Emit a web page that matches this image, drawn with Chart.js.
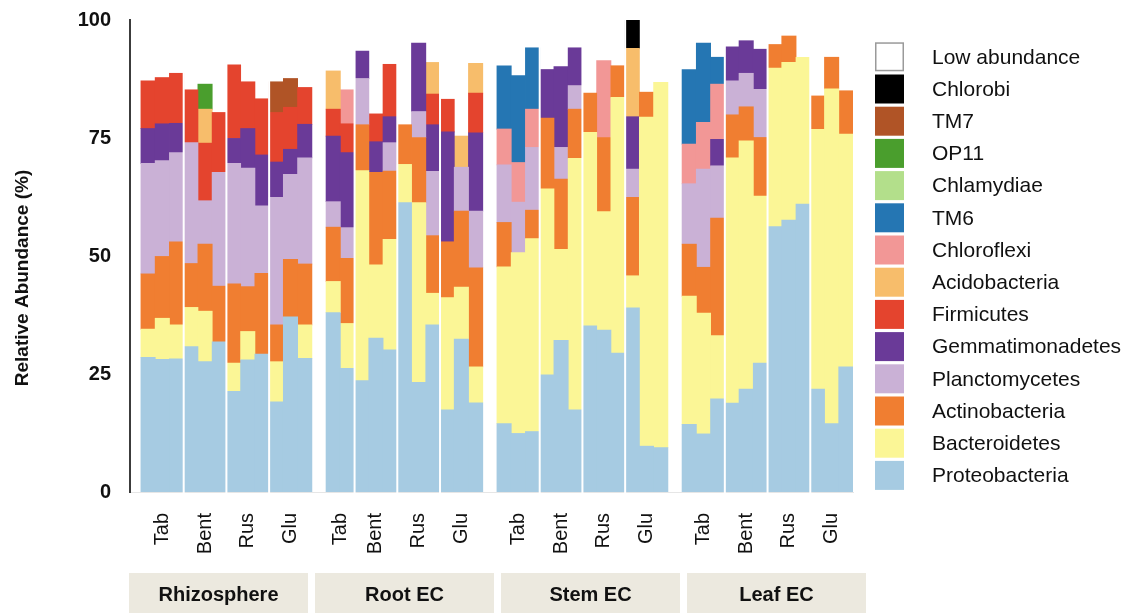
<!DOCTYPE html>
<html>
<head>
<meta charset="utf-8">
<title>Relative abundance of bacterial phyla</title>
<script src="https://cdn.jsdelivr.net/npm/chart.js@4.4.1/dist/chart.umd.min.js"></script>
<style>
  html, body { margin: 0; padding: 0; background: #ffffff; }
  #wrap { width: 1132px; height: 613px; }
</style>
</head>
<body>
<div id="wrap"><canvas id="chart" width="1132" height="613"></canvas></div>
<script>
// Sample layout: compartments, host plants, and replicates per host
const tissues = ['Rhizosphere', 'Root EC', 'Stem EC', 'Leaf EC'];
const hosts = ['Tab', 'Bent', 'Rus', 'Glu'];
const replicates = [[3, 3, 3, 3], [2, 3, 3, 3], [3, 3, 3, 3], [3, 3, 3, 3]];
const yTicks = [0, 25, 50, 75, 100];

// Relative abundance (%) for each replicate, left to right
// (Rhizosphere 12 | Root EC 11 | Stem EC 12 | Leaf EC 12)
const proteobacteria   = [28.5, 28.1, 28.2, 30.8, 27.6, 31.8, 21.3, 28.0, 29.2, 19.1, 37.1, 28.3, 38.0, 26.2, 23.6, 32.6, 30.1, 61.3, 23.2, 35.4, 17.4, 32.4, 18.9, 14.5, 12.4, 12.8, 24.8, 32.1, 17.4, 35.2, 34.3, 29.4, 39.0, 9.7, 9.4, 14.3, 12.3, 19.7, 18.8, 21.8, 27.3, 56.2, 57.6, 61.0, 21.8, 14.5, 26.5];
const bacteroidetes    = [6.0, 8.7, 7.2, 8.3, 10.7, 0, 6.0, 6.0, 0, 8.5, 0, 7.1, 6.6, 9.5, 44.5, 15.5, 23.4, 8.1, 38.1, 6.7, 23.8, 11.0, 7.6, 33.2, 38.3, 40.9, 39.4, 19.3, 53.3, 41.0, 25.1, 54.2, 6.8, 69.7, 77.4, 27.2, 25.6, 13.4, 52.0, 52.6, 35.4, 33.6, 33.4, 31.1, 55.0, 70.9, 49.3];
const actinobacteria   = [11.7, 13.1, 17.6, 9.3, 14.2, 11.8, 16.8, 9.5, 17.1, 7.8, 12.2, 12.9, 11.5, 13.8, 9.7, 19.6, 14.5, 8.4, 13.8, 12.2, 11.8, 16.1, 21.0, 9.4, 0, 6.0, 15.0, 14.9, 10.4, 8.3, 15.7, 6.7, 16.6, 5.3, 0, 11.0, 9.7, 24.9, 9.1, 7.2, 12.4, 5.0, 5.6, 0, 7.1, 6.7, 9.2];
const planctomycetes   = [23.4, 20.3, 18.9, 25.6, 9.2, 24.1, 25.5, 25.1, 14.3, 27.0, 18.0, 22.5, 5.4, 6.5, 9.8, 0, 6.0, 0, 5.5, 13.6, 0, 9.3, 12.0, 12.2, 10.7, 13.3, 0, 6.7, 5.0, 0, 0, 0, 6.0, 0, 0, 12.8, 20.8, 11.1, 7.2, 7.1, 10.2, 0, 0, 0, 0, 0, 0];
const gemmatimonadetes = [7.4, 7.8, 6.2, 0, 0, 0, 5.3, 8.4, 10.8, 7.5, 5.3, 7.1, 13.9, 15.9, 5.8, 6.5, 5.5, 0, 14.5, 9.9, 23.3, 0, 16.6, 0, 0, 0, 10.3, 17.1, 8.0, 0, 0, 0, 11.1, 0, 0, 0, 0, 5.6, 7.2, 6.9, 8.5, 0, 0, 0, 0, 0, 0];
const firmicutes       = [10.1, 9.8, 10.6, 11.2, 12.2, 12.7, 15.6, 9.9, 11.9, 10.5, 8.9, 7.8, 5.7, 6.1, 0, 5.9, 11.1, 0, 0, 6.5, 6.9, 0, 8.4, 0, 0, 0, 0, 0, 0, 0, 0, 0, 0, 0, 0, 0, 0, 0, 0, 0, 0, 0, 0, 0, 0, 0, 0];
const acidobacteria    = [0, 0, 0, 0, 7.2, 0, 0, 0, 0, 0, 0, 0, 8.1, 0, 0, 0, 0, 0, 0, 6.7, 0, 6.6, 6.3, 0, 0, 0, 0, 0, 0, 0, 0, 0, 14.5, 0, 0, 0, 0, 0, 0, 0, 0, 0, 0, 0, 0, 0, 0];
const chloroflexi      = [0, 0, 0, 0, 0, 0, 0, 0, 0, 0, 0, 0, 0, 7.2, 0, 0, 0, 0, 0, 0, 0, 0, 0, 7.6, 8.4, 8.1, 0, 0, 0, 0, 16.3, 0, 0, 0, 0, 8.4, 9.9, 11.7, 0, 0, 0, 0, 0, 0, 0, 0, 0];
const tm6              = [0, 0, 0, 0, 0, 0, 0, 0, 0, 0, 0, 0, 0, 0, 0, 0, 0, 0, 0, 0, 0, 0, 0, 13.4, 18.4, 13.0, 0, 0, 0, 0, 0, 0, 0, 0, 0, 15.8, 16.8, 5.7, 0, 0, 0, 0, 0, 0, 0, 0, 0];
const chlamydiae       = [0, 0, 0, 0, 0, 0, 0, 0, 0, 0, 0, 0, 0, 0, 0, 0, 0, 0, 0, 0, 0, 0, 0, 0, 0, 0, 0, 0, 0, 0, 0, 0, 0, 0, 0, 0, 0, 0, 0, 0, 0, 0, 0, 0, 0, 0, 0];
const op11             = [0, 0, 0, 0, 5.3, 0, 0, 0, 0, 0, 0, 0, 0, 0, 0, 0, 0, 0, 0, 0, 0, 0, 0, 0, 0, 0, 0, 0, 0, 0, 0, 0, 0, 0, 0, 0, 0, 0, 0, 0, 0, 0, 0, 0, 0, 0, 0];
const tm7              = [0, 0, 0, 0, 0, 0, 0, 0, 0, 6.5, 6.1, 0, 0, 0, 0, 0, 0, 0, 0, 0, 0, 0, 0, 0, 0, 0, 0, 0, 0, 0, 0, 0, 0, 0, 0, 0, 0, 0, 0, 0, 0, 0, 0, 0, 0, 0, 0];
const chlorobi         = [0, 0, 0, 0, 0, 0, 0, 0, 0, 0, 0, 0, 0, 0, 0, 0, 0, 0, 0, 0, 0, 0, 0, 0, 0, 0, 0, 0, 0, 0, 0, 0, 6.0, 0, 0, 0, 0, 0, 0, 0, 0, 0, 0, 0, 0, 0, 0];
const lowAbundance     = [12.9, 12.2, 11.3, 14.8, 13.6, 19.6, 9.5, 13.1, 16.7, 13.1, 12.4, 14.3, 10.8, 14.8, 6.6, 19.9, 9.4, 22.2, 4.9, 9.0, 16.8, 24.6, 9.2, 9.7, 11.8, 5.9, 10.5, 9.9, 5.9, 15.5, 8.6, 9.7, 0, 15.3, 13.2, 10.5, 4.9, 7.9, 5.7, 4.4, 6.2, 5.2, 3.4, 7.9, 16.1, 7.9, 15.0];

// Stack order, bottom to top
const phyla = [
  { name: 'Proteobacteria',   color: '#a6cbe2', values: proteobacteria },
  { name: 'Bacteroidetes',    color: '#fbf696', values: bacteroidetes },
  { name: 'Actinobacteria',   color: '#f07e31', values: actinobacteria },
  { name: 'Planctomycetes',   color: '#cab1d6', values: planctomycetes },
  { name: 'Gemmatimonadetes', color: '#6a3a98', values: gemmatimonadetes },
  { name: 'Firmicutes',       color: '#e4442e', values: firmicutes },
  { name: 'Acidobacteria',    color: '#f7bd6b', values: acidobacteria },
  { name: 'Chloroflexi',      color: '#f29796', values: chloroflexi },
  { name: 'TM6',              color: '#2576b3', values: tm6 },
  { name: 'Chlamydiae',       color: '#b3df8b', values: chlamydiae },
  { name: 'OP11',             color: '#4a9e2d', values: op11 },
  { name: 'TM7',              color: '#b05426', values: tm7 },
  { name: 'Chlorobi',         color: '#000000', values: chlorobi },
  { name: 'Low abundance',    color: '#ffffff', values: lowAbundance }
];

// Slot positions on the x axis: one slot per replicate, an empty slot between compartments
const slots = [];
const hostGroups = [];
const tissueSpans = [];
(function () {
  let s = 0;
  replicates.forEach((reps, t) => {
    const first = s;
    reps.forEach((n, h) => {
      hostGroups.push({ label: hosts[h], first: s, last: s + n - 1, tissue: t });
      for (let i = 0; i < n; i++) slots.push(s++);
    });
    tissueSpans.push({ label: tissues[t], first, last: s - 1 });
    s += 1;
  });
})();
const lastSlot = slots[slots.length - 1];

const FONT = "'Liberation Sans', Arial, Helvetica, sans-serif";
Chart.defaults.font.family = FONT;
Chart.defaults.color = '#111111';

// absent phyla (0 %) get no segment at all
const datasets = phyla.map(p => ({
  label: p.name,
  data: p.values
    .map((v, i) => ({ x: slots[i], y: v }))
    .filter(pt => pt.y > 0),
  backgroundColor: p.color,
  borderWidth: 0,
  barPercentage: 1,
  categoryPercentage: 1,
  inflateAmount: 0.4,
  stack: 'all'
}));

// Annotation layer: host separators, host and compartment labels, axis title, legend
const annotations = {
  id: 'annotations',
  afterDraw(chart) {
    const { ctx, chartArea: area, scales: { x } } = chart;
    ctx.save();

    // white gaps between host groups within a compartment
    ctx.strokeStyle = '#ffffff';
    ctx.lineWidth = 2;
    hostGroups.forEach((g, i) => {
      const next = hostGroups[i + 1];
      if (!next || next.tissue !== g.tissue) return;
      const px = x.getPixelForValue(g.last + 0.5);
      ctx.beginPath();
      ctx.moveTo(px, area.top);
      ctx.lineTo(px, area.bottom + 1);
      ctx.stroke();
    });

    // host labels, rotated
    ctx.fillStyle = '#111111';
    ctx.font = '20px ' + FONT;
    ctx.textAlign = 'right';
    ctx.textBaseline = 'middle';
    hostGroups.forEach(g => {
      const cx = x.getPixelForValue((g.first + g.last) / 2);
      ctx.save();
      ctx.translate(cx, area.bottom + 21);
      ctx.rotate(-Math.PI / 2);
      ctx.fillText(g.label, 0, 0);
      ctx.restore();
    });

    // compartment boxes
    const bx0 = area.left - 1, bx1 = area.right + 13, gap = 7;
    const bw = (bx1 - bx0 - gap * (tissueSpans.length - 1)) / tissueSpans.length;
    ctx.font = 'bold 20px ' + FONT;
    ctx.textAlign = 'center';
    tissueSpans.forEach((t, i) => {
      const left = bx0 + i * (bw + gap);
      ctx.fillStyle = '#ece9df';
      ctx.fillRect(left, area.bottom + 81, bw, 40);
      ctx.fillStyle = '#111111';
      ctx.fillText(t.label, left + bw / 2, area.bottom + 103);
    });

    // y axis title
    ctx.save();
    ctx.translate(23, 278);
    ctx.rotate(-Math.PI / 2);
    ctx.font = 'bold 19px ' + FONT;
    ctx.textAlign = 'center';
    ctx.textBaseline = 'middle';
    ctx.fillText('Relative Abundance (%)', 0, 0);
    ctx.restore();

    // legend, top of the stack first
    const lx = area.right + 22, ly = area.top + 22.3, box = 29, pitch = 32.2;
    ctx.font = '21px ' + FONT;
    ctx.textAlign = 'left';
    ctx.textBaseline = 'middle';
    chart.data.datasets.slice().reverse().forEach((ds, i) => {
      const top = ly + i * pitch;
      ctx.fillStyle = ds.backgroundColor;
      ctx.fillRect(lx, top, box, box);
      if (ds.backgroundColor === '#ffffff') {
        ctx.strokeStyle = '#9a9a9a';
        ctx.lineWidth = 1.5;
        ctx.strokeRect(lx + 0.75, top + 0.75, box - 1.5, box - 1.5);
      }
      ctx.fillStyle = '#111111';
      ctx.fillText(ds.label, lx + 57, top + box / 2 + 1);
    });

    ctx.restore();
  }
};

new Chart(document.getElementById('chart'), {
  type: 'bar',
  data: { datasets },
  plugins: [annotations],
  options: {
    responsive: false,
    animation: false,
    devicePixelRatio: 1,
    layout: { padding: { left: 0, right: 279, top: 20, bottom: 121 } },
    plugins: { legend: { display: false }, tooltip: { enabled: false } },
    scales: {
      x: {
        type: 'linear',
        stacked: true,
        min: -1.27,
        max: lastSlot + 0.5,
        offset: false,
        grid: { display: false, drawTicks: false },
        ticks: { display: false, stepSize: 10 },
        border: { display: true, color: '#e6e6e6', width: 1 },
        afterFit(scale) { scale.height = 0; }
      },
      y: {
        stacked: true,
        min: yTicks[0],
        max: yTicks[yTicks.length - 1],
        afterBuildTicks(scale) { scale.ticks = yTicks.map(v => ({ value: v })); },
        ticks: { padding: 19, color: '#111111', font: { size: 20, weight: 'bold' } },
        grid: { display: false, drawTicks: false },
        border: { color: '#3c3c3c', width: 2 },
        afterFit(scale) {
          scale.width = 130;
          scale.paddingTop = 0;
          scale.paddingBottom = 0;
        }
      }
    }
  }
});
</script>
</body>
</html>
